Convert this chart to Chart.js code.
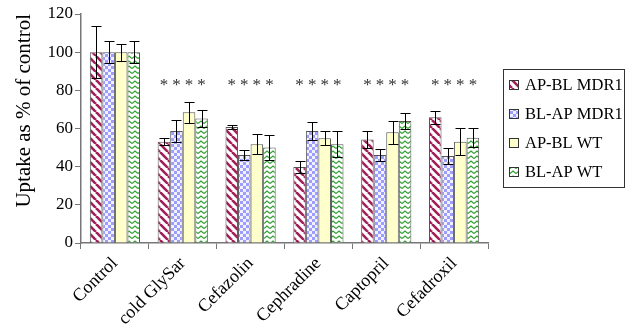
<!DOCTYPE html>
<html>
<head>
<meta charset="utf-8">
<script src="https://cdn.jsdelivr.net/npm/chart.js@4.4.1/dist/chart.umd.min.js"></script>
<style>
  body { margin: 0; background: #fff; }
  #wrap { width: 629px; height: 326px; }
</style>
</head>
<body>
<div id="wrap"><canvas id="c" width="629" height="326"></canvas></div>
<script>
const categories = ['Control', 'cold GlySar', 'Cefazolin', 'Cephradine', 'Captopril', 'Cefadroxil'];
const seriesNames = ['AP-BL MDR1', 'BL-AP MDR1', 'AP-BL WT', 'BL-AP WT'];
const apblMdr1 = [100, 53.1, 60.8, 39.8, 54.3, 65.9];
const blapMdr1 = [100, 58.7, 46.1, 58.7, 46.1, 45.6];
const apblWt = [100, 68.5, 51.7, 54.9, 58.0, 53.1];
const blapWt = [100, 65.3, 50.0, 51.7, 63.9, 55.2];
const apblMdr1Err = [13.5, 2.0, 1.0, 3.0, 4.3, 3.3];
const blapMdr1Err = [5.8, 6.0, 2.5, 4.5, 3.1, 4.4];
const apblWtErr = [4.5, 5.5, 5.2, 3.8, 6.0, 7.0];
const blapWtErr = [5.8, 4.6, 6.4, 6.8, 4.4, 5.0];
const starLevel = 84;
const starGroups = [1, 2, 3, 4, 5];
const yTicks = [0, 20, 40, 60, 80, 100, 120];

const serif = '"Liberation Serif", "DejaVu Serif", serif';

function makePattern(kind) {
  const c = document.createElement('canvas');
  const g = c.getContext('2d');
  if (kind === 'stripe') {
    c.width = 8; c.height = 8;
    g.fillStyle = '#fff'; g.fillRect(0, 0, 8, 8);
    g.strokeStyle = '#a0205a'; g.lineWidth = 2.6;
    for (let k = -8; k <= 16; k += 8) {
      g.beginPath(); g.moveTo(k, 0); g.lineTo(k + 8, 8); g.stroke();
    }
  } else if (kind === 'check') {
    c.width = 6; c.height = 6;
    g.fillStyle = '#9d9dff'; g.fillRect(0, 0, 6, 6);
    g.fillStyle = '#f2f2ff';
    g.fillRect(0, 0, 3, 3); g.fillRect(3, 3, 3, 3);
  } else if (kind === 'zig') {
    c.width = 6; c.height = 5;
    g.fillStyle = '#fff'; g.fillRect(0, 0, 6, 5);
    g.strokeStyle = '#33a033'; g.lineWidth = 1.3;
    g.beginPath(); g.moveTo(0, 3.5); g.lineTo(3, 1); g.lineTo(6, 3.5); g.stroke();
  }
  return g.createPattern(c, 'repeat');
}

const fills = [makePattern('stripe'), makePattern('check'), '#ffffcc', makePattern('zig')];
const values = [apblMdr1, blapMdr1, apblWt, blapWt];
const errors = [apblMdr1Err, blapMdr1Err, apblWtErr, blapWtErr];

const extras = {
  id: 'extras',
  afterDatasetsDraw(chart) {
    const ctx = chart.ctx;
    const y = chart.scales.y;
    ctx.save();
    ctx.strokeStyle = '#000';
    ctx.lineWidth = 1;
    values.forEach((vals, di) => {
      const meta = chart.getDatasetMeta(di);
      meta.data.forEach((bar, i) => {
        const e = errors[di][i];
        const x = Math.round(bar.x) + 0.5;
        const top = Math.round(y.getPixelForValue(vals[i] + e)) + 0.5;
        const bot = Math.round(y.getPixelForValue(vals[i] - e)) + 0.5;
        ctx.beginPath();
        ctx.moveTo(x, top); ctx.lineTo(x, bot);
        ctx.moveTo(x - 5, top); ctx.lineTo(x + 5, top);
        ctx.moveTo(x - 5, bot); ctx.lineTo(x + 5, bot);
        ctx.stroke();
      });
    });
    ctx.fillStyle = '#333';
    ctx.font = '17px ' + serif;
    ctx.textAlign = 'center';
    ctx.textBaseline = 'middle';
    const sy = y.getPixelForValue(starLevel);
    starGroups.forEach(gi => {
      values.forEach((v, di) => {
        const bar = chart.getDatasetMeta(di).data[gi];
        ctx.fillText('*', bar.x, sy + 3);
      });
    });
    ctx.restore();
  },
  afterDraw(chart) {
    // legend box at right
    const ctx = chart.ctx;
    const left = chart.chartArea.right + 15;
    const top = 69;
    const w = 121, h = 118;
    ctx.save();
    ctx.strokeStyle = '#333';
    ctx.lineWidth = 1;
    ctx.strokeRect(left + 0.5, top + 0.5, w, h);
    ctx.font = '16.5px ' + serif;
    ctx.textBaseline = 'middle';
    seriesNames.forEach((n, i) => {
      const cy = top + 16 + i * 29;
      ctx.fillStyle = fills[i];
      ctx.fillRect(left + 6, cy - 5, 10, 10);
      ctx.strokeStyle = '#333';
      ctx.strokeRect(left + 6.5, cy - 4.5, 9, 9);
      ctx.fillStyle = '#000';
      ctx.fillText(n, left + 22, cy + 1);
    });
    ctx.restore();
  }
};

new Chart(document.getElementById('c'), {
  type: 'bar',
  data: {
    labels: categories,
    datasets: seriesNames.map((name, i) => ({
      label: name,
      data: values[i],
      backgroundColor: fills[i],
      borderColor: '#555',
      borderWidth: 1,
      borderSkipped: 'bottom',
      categoryPercentage: 0.74,
      barPercentage: 1.0
    }))
  },
  options: {
    responsive: false,
    animation: false,
    events: [],
    layout: { padding: { left: 0, top: 14, right: 141, bottom: 0 } },
    scales: {
      x: {
        afterFit(scale) { scale.height = 83; },
        grid: { display: true, offset: true, drawOnChartArea: false, tickLength: 6, color: '#777' },
        border: { color: '#777', width: 1.5 },
        ticks: { color: '#000', font: { family: serif, size: 18 }, minRotation: 45, maxRotation: 45, padding: 4 }
      },
      y: {
        min: 0, max: 120,
        afterFit(scale) { scale.width = 81; },
        afterBuildTicks(scale) { scale.ticks = yTicks.map(v => ({ value: v })); },
        grid: { display: true, drawOnChartArea: false, tickLength: 6, color: '#777' },
        border: { color: '#777', width: 1.5 },
        ticks: { color: '#000', font: { family: serif, size: 17 }, padding: 2 },
        title: { display: true, text: 'Uptake as % of control', align: 'end', color: '#000', font: { family: serif, size: 21 }, padding: { top: 12, bottom: 0 } }
      }
    },
    plugins: {
      tooltip: { enabled: false },
      legend: { display: false }
    }
  },
  plugins: [extras]
});
</script>
</body>
</html>
